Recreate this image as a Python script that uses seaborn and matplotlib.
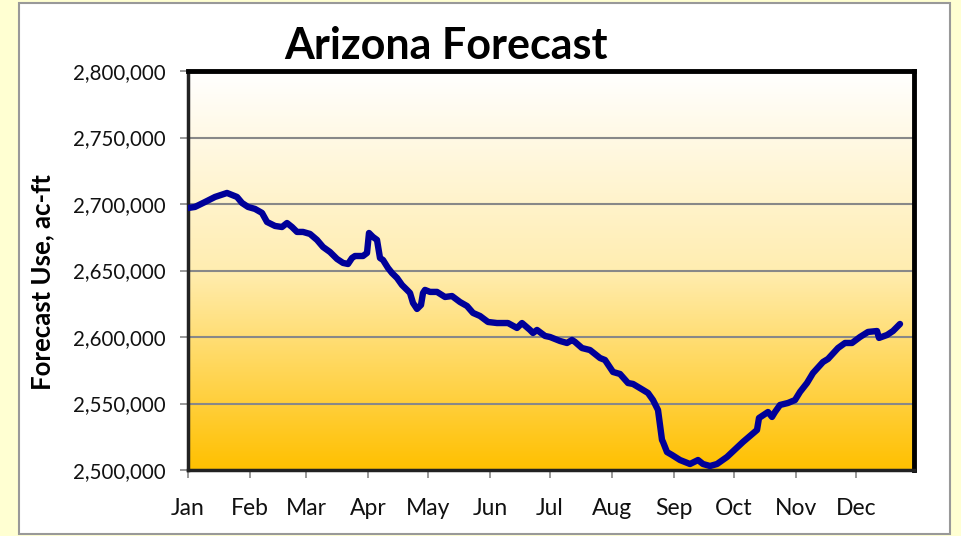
import numpy as np
import pandas as pd
import matplotlib
matplotlib.use('Agg')
import matplotlib.pyplot as plt
import matplotlib.ticker as mticker
from matplotlib.patches import Rectangle
from matplotlib.colors import LinearSegmentedColormap
import seaborn as sns

# day of year and forecast use (thousand ac-ft)
days = [0, 3.5, 8.5, 13.5, 19.5, 24.5, 27, 30, 33.5, 37, 39.5, 43.5, 47, 49.5, 52, 54.5,
        57.5, 61, 64.5, 67.5, 71, 74.5, 77.5, 80, 82, 83.5, 87.5, 89.5, 90.5, 92.5, 94.5,
        96, 97.5, 100, 102, 104.5, 107, 109.5, 111, 112.5, 114.5, 116.5, 117.5, 118.5, 121,
        124.5, 128.5, 132, 136, 139.5, 142.5, 146, 150, 154.5, 160, 164.5, 167, 171, 172.5,
        174.5, 178.5, 181, 186, 189.5, 192, 193.5, 197, 201, 206, 208.5, 212.5, 216, 220,
        222.5, 227.5, 230, 232.5, 235, 237, 237.5, 239.5, 242, 246, 251, 255, 257.5, 261,
        264.5, 269.5, 277.5, 284.5, 285.5, 290, 292, 293.5, 296, 300, 303.5, 306, 309.5,
        312.5, 317.5, 320, 325, 328.5, 332, 336, 340, 344.5, 345.5, 349.5, 352.5, 356]
use_k = [2697.0, 2697.8, 2701.5, 2705.3, 2708.3, 2705.3, 2700.8, 2697.8, 2696.3, 2693.3,
         2686.5, 2683.5, 2682.7, 2685.7, 2682.7, 2679.0, 2679.0, 2677.5, 2673.0, 2667.7,
         2663.9, 2658.7, 2655.7, 2654.9, 2659.4, 2660.9, 2660.9, 2663.2, 2678.2, 2675.2,
         2673.0, 2659.4, 2657.9, 2651.9, 2648.1, 2644.4, 2639.1, 2635.4, 2633.1, 2625.6,
         2621.1, 2624.1, 2633.1, 2635.4, 2633.9, 2633.9, 2630.1, 2630.8, 2626.3, 2623.3,
         2618.1, 2615.8, 2611.3, 2610.5, 2610.5, 2606.8, 2610.5, 2605.3, 2603.0, 2605.3,
         2600.8, 2600.0, 2597.0, 2595.5, 2597.8, 2596.3, 2591.7, 2590.2, 2584.2, 2582.7,
         2573.7, 2572.2, 2565.4, 2564.7, 2560.2, 2557.9, 2552.6, 2545.1, 2522.6, 2521.1,
         2513.5, 2511.3, 2507.5, 2504.5, 2507.5, 2504.5, 2503.0, 2504.5, 2509.8, 2521.1,
         2530.1, 2539.1, 2543.6, 2539.9, 2543.6, 2548.9, 2550.4, 2552.6, 2558.7, 2565.4,
         2572.9, 2581.2, 2583.5, 2591.7, 2595.5, 2595.5, 2600.0, 2603.8, 2604.5, 2599.3,
         2601.5, 2604.5, 2609.8]
month_days = [0, 31, 59, 90, 120, 151, 181, 212, 243, 273, 304, 334]
month_labels = ['Jan', 'Feb', 'Mar', 'Apr', 'May', 'Jun', 'Jul', 'Aug', 'Sep', 'Oct', 'Nov', 'Dec']

df = pd.DataFrame({'day': days, 'use': np.array(use_k) * 1000})

sns.set_style('white')
plt.rcParams['font.family'] = ['Lato', 'DejaVu Sans']

fig = plt.figure(figsize=(9.61, 5.36), dpi=100)
fig.patch.set_facecolor('#FFFFD2')
# white chart panel with grey frame
fig.patches.append(Rectangle((19 / 961, 2 / 536), 931 / 961, 531 / 536, transform=fig.transFigure,
                             facecolor='white', edgecolor='#999999', linewidth=1.5, zorder=-5))

ax = fig.add_axes([188 / 961, 1 - 470 / 536, 726 / 961, 399 / 536])
ax.set_zorder(2)
ax.set_xlim(0, 363)

# white -> gold gradient background
grad = LinearSegmentedColormap.from_list('g', ['#FFFFFF', '#FFEDB0', '#FFC000'])
ax.imshow(np.linspace(0, 1, 256).reshape(-1, 1), cmap=grad, aspect='auto',
          extent=[0, 363, 2500000, 2800000], origin='upper', zorder=0)
ax.set_ylim(2500000, 2800000)

ax.yaxis.set_major_locator(mticker.MultipleLocator(50000))
ax.yaxis.set_major_formatter(mticker.StrMethodFormatter('{x:,.0f}'))
ax.grid(axis='y', color='#888888', linewidth=1.5, zorder=1)

sns.lineplot(data=df, x='day', y='use', color='#000099', linewidth=4.6, ax=ax, zorder=3)

ax.set_xticks(month_days)
ax.set_xticklabels(month_labels)
ax.tick_params(axis='both', direction='out', length=6, width=1.2, colors='#888888',
               labelcolor='#111111', left=True, bottom=True)
ax.tick_params(axis='y', pad=10, labelsize=14.8)
ax.tick_params(axis='x', pad=14, labelsize=16.5)
ax.set_xlabel('')
ax.set_ylabel('')
ax.grid(axis='x', visible=False)

for s in ['top', 'right']:
    ax.spines[s].set_color('black')
    ax.spines[s].set_linewidth(3.5)
for s in ['left', 'bottom']:
    ax.spines[s].set_color('#222222')
    ax.spines[s].set_linewidth(2.5)

fig.text(446 / 961, 1 - 46 / 536, 'Arizona Forecast', ha='center', va='center',
         fontsize=31, fontweight='bold', color='black')
fig.text(42 / 961, 1 - 282 / 536, 'Forecast Use, ac-ft', ha='center', va='center',
         rotation=90, fontsize=18.5, fontweight='bold', color='black')

fig.savefig('out.png', dpi=100, facecolor=fig.get_facecolor())
